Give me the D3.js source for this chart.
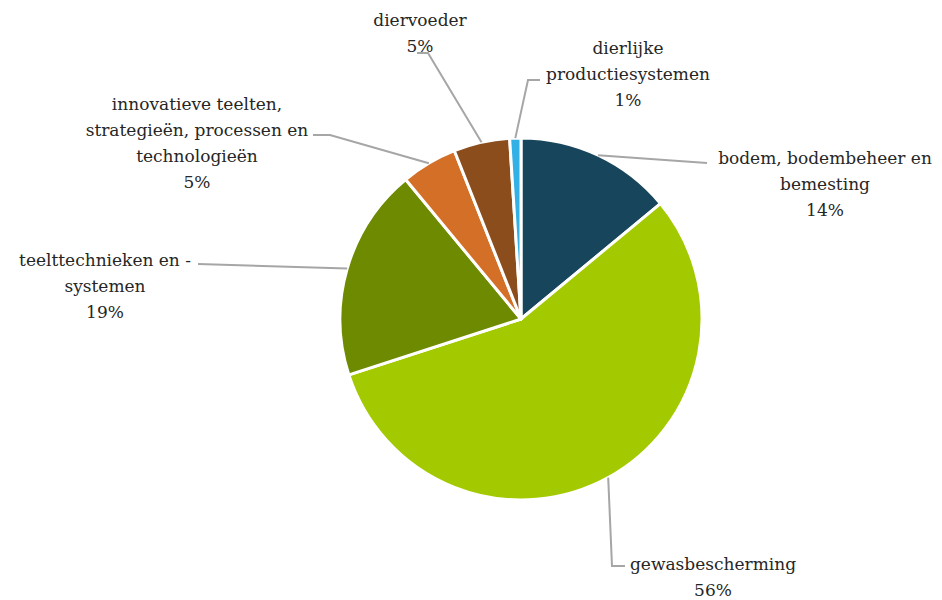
<!DOCTYPE html>
<html>
<head>
<meta charset="utf-8">
<script src="https://cdn.jsdelivr.net/npm/d3@7"></script>
<style>
  body { margin: 0; background: #fff; }
</style>
</head>
<body>
<div id="chart"></div>
<script>
// data
const categories = [
    "bodem, bodembeheer en bemesting",
    "gewasbescherming",
    "teelttechnieken en -systemen",
    "innovatieve teelten, strategieën, processen en technologieën",
    "diervoeder",
    "dierlijke productiesystemen"
]
const values = [14, 56, 19, 5, 5, 1]
const colors = ["#17465c", "#a3c900", "#6d8a00", "#d36f26", "#8c4d1c", "#33b0e6"]

// label text lines as drawn in the chart
const labelLines = [
    ["bodem, bodembeheer en", "bemesting"],
    ["gewasbescherming"],
    ["teelttechnieken en -", "systemen"],
    ["innovatieve teelten,", "strategieën, processen en", "technologieën"],
    ["diervoeder"],
    ["dierlijke", "productiesystemen"]
]

// label layout: text center x, first line baseline y, leader elbow and end
const labelLayout = [
    { x: 825, y: 164, elbow: [707, 163], end: [707, 163] },
    { x: 713, y: 570, elbow: [612, 566], end: [625, 566] },
    { x: 105, y: 266, elbow: [198, 264], end: [198, 264] },
    { x: 197, y: 110, elbow: [330, 135], end: [313, 135] },
    { x: 420, y: 26, elbow: [428, 53], end: [417, 53] },
    { x: 628, y: 54, elbow: [528, 80], end: [540, 80] }
]

const width = 942, height = 600
const cx = 521, cy = 319, radius = 181
const lineH = 26
const font_face = "DejaVu Serif"
const font_size = 17

const svg = d3.select("#chart")
    .append("svg")
    .attr("width", width)
    .attr("height", height)

const pie = d3.pie().sort(null).value(d => d)
const arcs = pie(values)

const arc = d3.arc().innerRadius(0).outerRadius(radius)
const edgeArc = d3.arc().innerRadius(radius).outerRadius(radius)

const g = svg.append("g").attr("transform", `translate(${cx},${cy})`)

g.selectAll(".slice")
    .data(arcs)
    .join("path")
    .attr("class", "slice")
    .attr("d", arc)
    .attr("fill", (d, i) => colors[i])
    .attr("stroke", "#fff")
    .attr("stroke-width", 3)
    .attr("stroke-linejoin", "round")

// leader lines
svg.selectAll(".leader")
    .data(arcs)
    .join("polyline")
    .attr("class", "leader")
    .attr("points", (d, i) => {
        const [ex, ey] = edgeArc.centroid(d)
        const L = labelLayout[i]
        return [[cx + ex, cy + ey], L.elbow, L.end].map(p => p.join(",")).join(" ")
    })
    .attr("fill", "none")
    .attr("stroke", "#a6a6a6")
    .attr("stroke-width", 2)

// labels
const labels = svg.selectAll(".label")
    .data(arcs)
    .join("text")
    .attr("class", "label")
    .attr("text-anchor", "middle")
    .attr("font-family", font_face)
    .attr("font-size", `${font_size}px`)
    .attr("fill", "#262626")

labels.each(function(d, i) {
    const t = d3.select(this)
    const L = labelLayout[i]
    const lines = labelLines[i].concat([`${values[i]}%`])
    lines.forEach((s, k) => {
        t.append("tspan")
            .attr("x", L.x)
            .attr("y", L.y + k * lineH)
            .text(s)
    })
})
</script>
</body>
</html>
